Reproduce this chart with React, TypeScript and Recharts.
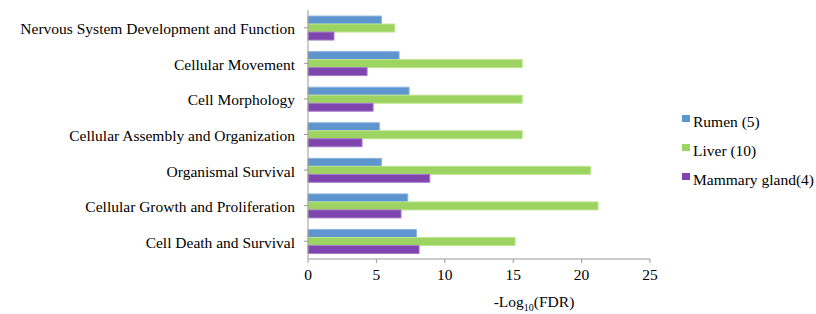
import React from "react";
import { BarChart, Bar, XAxis, YAxis, Legend } from "recharts";

const categories = [
  "Nervous System Development and Function",
  "Cellular Movement",
  "Cell Morphology",
  "Cellular Assembly and Organization",
  "Organismal Survival",
  "Cellular Growth and Proliferation",
  "Cell Death and Survival",
];
const rumen = [5.37, 6.66, 7.39, 5.22, 5.37, 7.29, 7.93];
const liver = [6.34, 15.66, 15.66, 15.66, 20.66, 21.2, 15.14];
const mammary = [1.9, 4.32, 4.76, 3.95, 8.9, 6.8, 8.12];
const xTicks = [0, 5, 10, 15, 20, 25];

const series = [
  { key: "rumen", name: "Rumen (5)", color: "#5F95CE", stroke: "#8DB5E0" },
  { key: "liver", name: "Liver (10)", color: "#9DD461", stroke: "#BDE48F" },
  { key: "mammary", name: "Mammary gland(4)", color: "#7F45AE", stroke: "#A57BC8" },
];

const data = categories.map((c, i) => ({
  name: c,
  rumen: rumen[i],
  liver: liver[i],
  mammary: mammary[i],
}));

const FONT = "Liberation Serif, Times New Roman, serif";

function AxisTitle(props: any) {
  const vb = props.viewBox || {};
  const x = vb.x + vb.width / 2 + 55;
  const y = vb.y + 48;
  return (
    <text x={x} y={y} textAnchor="middle" fontFamily={FONT} fontSize={15.5} fill="#000">
      -Log
      <tspan fontSize={10} dy={4}>10</tspan>
      <tspan dy={-4}>(FDR)</tspan>
    </text>
  );
}

function LegendBox() {
  return (
    <div style={{ fontFamily: FONT, fontSize: 15.5, color: "#000", whiteSpace: "nowrap" }}>
      {series.map((s) => (
        <div key={s.key} style={{ height: 29, display: "flex", alignItems: "center" }}>
          <span
            style={{
              display: "inline-block",
              width: 8,
              height: 7,
              background: s.color,
              marginRight: 3,
              marginTop: -6,
            }}
          />
          <span>{s.name}</span>
        </div>
      ))}
    </div>
  );
}

export default function App() {
  return (
    <div style={{ position: "absolute", left: 0, top: 0, width: 816, height: 314, background: "#fff", overflow: "hidden" }}>
      <BarChart
        width={816}
        height={314}
        data={data}
        layout="vertical"
        barGap={0}
        barCategoryGap="17%"
        margin={{ top: 10, right: 166, left: 0, bottom: 0 }}
      >
        <XAxis
          type="number"
          domain={[0, 25]}
          ticks={xTicks}
          interval={0}
          height={55}
          stroke="#999"
          tickSize={4}
          tickMargin={6}
          tick={{ fontFamily: FONT, fontSize: 15.5, fill: "#000" }}
          label={<AxisTitle />}
        />
        <YAxis
          type="category"
          dataKey="name"
          width={308}
          interval={0}
          stroke="#999"
          tickSize={4}
          tickMargin={9}
          tick={{ fontFamily: FONT, fontSize: 15.5, fill: "#000", dy: 1 }}
        />
        <Legend
          layout="vertical"
          align="center"
          verticalAlign="middle"
          content={<LegendBox />}
          wrapperStyle={{ left: 682, top: 107, width: 140 }}
        />
        {series.map((s) => (
          <Bar
            key={s.key}
            dataKey={s.key}
            name={s.name}
            fill={s.color}
            stroke={s.stroke}
            strokeWidth={1}
            isAnimationActive={false}
          />
        ))}
      </BarChart>
    </div>
  );
}
